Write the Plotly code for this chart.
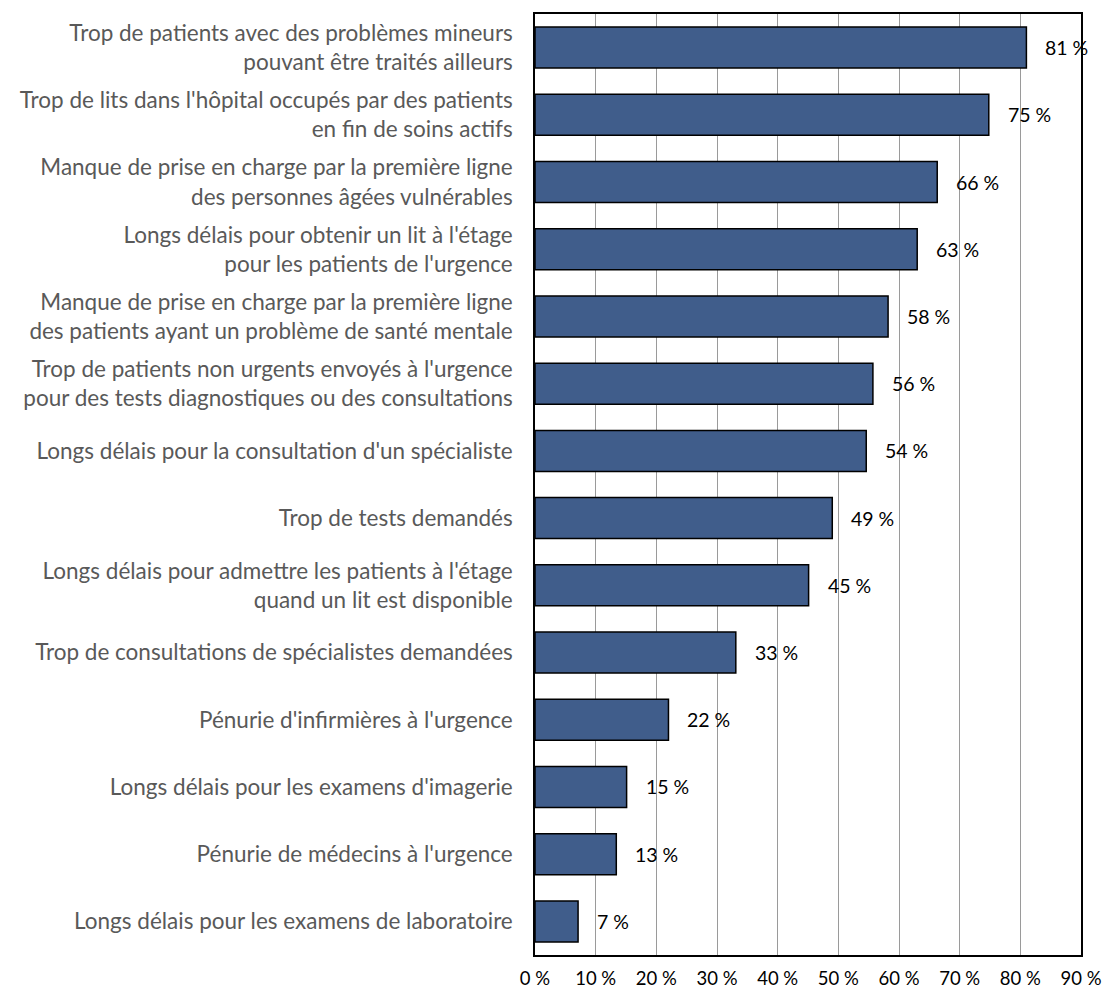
import plotly.graph_objects as go

categories = [
    "Trop de patients avec des problèmes mineurs<br>pouvant être traités ailleurs",
    "Trop de lits dans l'hôpital occupés par des patients<br>en fin de soins actifs",
    "Manque de prise en charge par la première ligne<br>des personnes âgées vulnérables",
    "Longs délais pour obtenir un lit à l'étage<br>pour les patients de l'urgence",
    "Manque de prise en charge par la première ligne<br>des patients ayant un problème de santé mentale",
    "Trop de patients non urgents envoyés à l'urgence<br>pour des tests diagnostiques ou des consultations",
    "Longs délais pour la consultation d'un spécialiste",
    "Trop de tests demandés",
    "Longs délais pour admettre les patients à l'étage<br>quand un lit est disponible",
    "Trop de consultations de spécialistes demandées",
    "Pénurie d'infirmières à l'urgence",
    "Longs délais pour les examens d'imagerie",
    "Pénurie de médecins à l'urgence",
    "Longs délais pour les examens de laboratoire",
]
values = [81.0, 74.8, 66.3, 63.0, 58.2, 55.7, 54.6, 49.0, 45.1, 33.1, 22.0, 15.1, 13.4, 7.1]
labels = ["81 %", "75 %", "66 %", "63 %", "58 %", "56 %", "54 %", "49 %", "45 %", "33 %", "22 %", "15 %", "13 %", "7 %"]
tick_vals = [0, 10, 20, 30, 40, 50, 60, 70, 80, 90]
tick_text = ["0 %", "10 %", "20 %", "30 %", "40 %", "50 %", "60 %", "70 %", "80 %", "90 %"]

FONT = "Lato, 'Open Sans', sans-serif"

fig = go.Figure()
fig.add_trace(
    go.Bar(
        x=values,
        y=categories,
        orientation="h",
        marker=dict(color="#405D8B", line=dict(color="black", width=1.5)),
        showlegend=False,
        hoverinfo="skip",
    )
)

for cat, val, lab in zip(categories, values, labels):
    fig.add_annotation(
        x=val,
        y=cat,
        text=lab,
        showarrow=False,
        xanchor="left",
        xshift=17,
        font=dict(family=FONT, size=19.5, color="black"),
    )

fig.update_layout(
    width=1102,
    height=994,
    margin=dict(l=535, r=21, t=14, b=39),
    plot_bgcolor="white",
    paper_bgcolor="white",
    bargap=0.39,
    font=dict(family=FONT),
)
fig.update_xaxes(
    range=[0, 90],
    tickvals=tick_vals,
    ticktext=tick_text,
    showgrid=True,
    gridcolor="#9a9a9a",
    gridwidth=1,
    showline=True,
    linecolor="black",
    linewidth=1.5,
    mirror=True,
    zeroline=False,
    ticks="",
    tickfont=dict(family=FONT, size=18.5, color="black"),
    ticklabelstandoff=6,
    ticklabeloverflow="allow",
    automargin=False,
)
fig.update_yaxes(
    autorange="reversed",
    showline=True,
    linecolor="black",
    linewidth=1.5,
    mirror=True,
    ticks="",
    tickfont=dict(family=FONT, size=22.5, color="#595959"),
    ticklabelstandoff=16,
    automargin=False,
)

# drop the default page margin so the figure fills the window exactly
fig.write_html(
    "out.html",
    config={"displayModeBar": False},
    post_script="document.body.style.margin = '0';",
)
